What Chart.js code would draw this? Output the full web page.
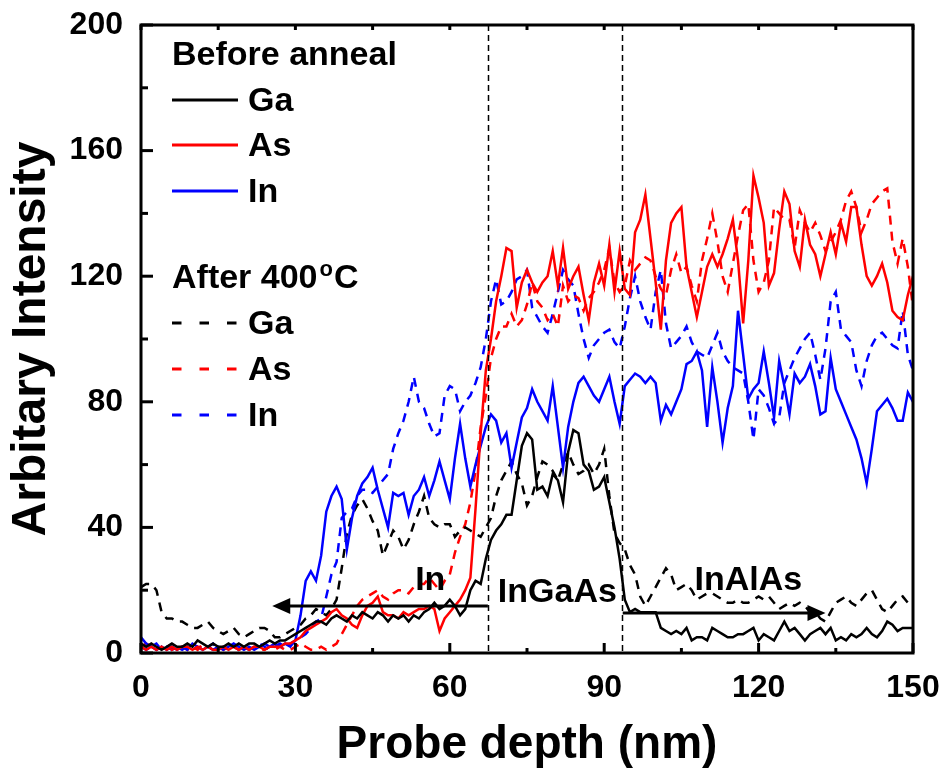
<!DOCTYPE html>
<html>
<head>
<meta charset="utf-8">
<script src="https://cdn.jsdelivr.net/npm/chart.js@4.4.0/dist/chart.umd.min.js"></script>
<style>
  body { margin: 0; background: #ffffff; }
  #wrap { width: 946px; height: 776px; }
</style>
</head>
<body>
<div id="wrap"><canvas id="chart" width="946" height="776"></canvas></div>
<script>
// Depth profile data (1 nm steps, 0..150 nm)
const depth = Array.from({ length: 151 }, (_, i) => i);

const gaBefore = [
  3,2,3,2,1,2,3,2,2,3,  2,4,3,2,3,2,2,3,2,3,  2,3,3,2,3,4,3,4,4,5,
  6,7,8,9,10,10,9,11,12,11,  10,12,11,13,12,11,13,12,10,12,
  11,12,10,12,11,13,14,16,14,15,  17,15,12,14,20,23,22,30,36,39,
  41,44,44,55,66,70,68,52,53,50,  57,55,48,64,71,70,60,58,52,53,
  56,48,40,30,17,13,14,13,13,13,  13,8,7,6,7,6,8,4,5,5,
  4,8,7,6,5,5,6,6,7,8,  4,6,5,4,7,10,7,8,6,4,
  6,7,8,6,8,4,5,4,6,5,  6,8,6,5,7,10,9,7,8,8,  8
];
const asBefore = [
  2,1,2,1,2,1,2,1,2,2,  1,2,1,2,1,1,2,1,2,1,  2,1,2,2,1,2,2,2,3,3,
  4,5,7,8,9,10,11,13,14,12,  11,9,8,12,15,16,18,13,12,12,
  11,13,12,13,14,14,15,14,7,11,  13,15,17,20,24,46,70,90,100,112,
  120,129,128,110,118,122,118,115,118,120,  128,117,129,116,120,123,114,106,118,124,
  117,130,115,128,116,114,134,138,146,132,  118,103,125,137,140,142,123,115,107,115,
  123,127,123,127,132,138,125,105,125,152,  145,137,117,121,135,147,143,128,123,138,
  130,127,120,127,134,127,137,131,142,142,  130,120,117,120,124,118,109,107,106,114,  120
];
const inBefore = [
  5,3,2,1,2,1,2,1,2,1,  3,2,1,2,1,2,1,2,3,2,  1,2,1,2,3,2,3,2,3,2,
  4,12,23,26,23,31,45,50,53,49,  33,43,50,54,56,59,52,46,40,51,
  50,51,44,50,52,56,50,55,61,55,  49,62,73,62,53,60,66,72,76,74,
  67,70,59,67,75,78,84,80,77,74,  85,72,59,72,80,86,88,85,82,80,
  84,88,80,73,85,87,89,88,86,88,  86,74,79,76,80,84,92,93,96,90,
  72,91,80,67,78,85,109,95,81,84,  86,96,86,75,93,85,76,89,86,88,
  92,85,76,77,94,84,80,76,72,68,  62,54,65,77,79,81,78,74,74,83,  80
];
const gaAfter = [
  21,22,22,20,13,11,11,10,10,9,  8,8,9,10,8,7,6,7,8,6,  5,6,7,8,8,7,5,5,6,7,
  8,9,11,12,14,13,12,14,17,27,  38,44,47,49,46,42,39,31,35,39,
  37,33,36,41,45,50,43,41,40,41,  41,37,39,40,39,38,37,40,43,50,
  55,58,61,57,54,47,50,56,61,60,  58,55,60,64,60,57,58,60,57,60,
  65,50,38,35,33,28,25,18,15,18,  21,24,27,25,20,21,22,20,17,18,
  19,19,18,17,16,16,17,16,16,17,  18,17,18,16,14,15,16,15,16,15,
  13,13,11,10,13,16,17,18,16,15,  17,19,20,17,14,13,15,17,18,16,  17
];
const asAfter = [
  2,3,2,1,2,3,1,2,2,1,  2,1,3,2,1,2,1,2,2,1,  2,1,2,1,1,2,1,2,1,1,
  2,3,2,1,1,2,1,2,3,6,  9,12,15,17,18,19,20,18,17,19,
  20,20,19,21,22,22,24,22,20,23,  25,32,37,41,48,58,72,82,94,100,
  104,104,108,104,106,111,118,112,110,106,  108,104,117,112,114,113,109,113,115,118,
  122,129,118,115,117,125,122,124,126,125,  120,116,114,122,127,121,123,117,112,125,
  132,140,131,120,115,124,133,141,143,125,  115,118,125,142,140,138,138,129,141,137,
  134,137,133,128,131,134,138,144,147,142,  134,138,143,145,147,148,131,124,132,123,  110
];
const inAfter = [
  2,1,2,3,1,2,1,2,1,2,  1,2,1,2,3,1,2,1,2,1,  2,1,2,3,2,1,2,3,2,3,
  4,5,6,8,10,11,18,25,29,43,  45,46,50,52,52,51,53,55,57,65,
  70,74,80,88,80,78,73,69,70,82,  85,84,77,80,82,86,91,100,112,119,
  111,112,115,119,120,122,110,107,104,102,  108,115,122,119,117,108,100,94,98,100,
  102,103,99,97,104,113,120,112,107,103,  115,122,105,97,99,101,104,99,96,95,
  94,98,102,96,93,91,90,89,80,68,  84,82,78,73,75,86,90,94,97,100,
  102,95,87,97,112,115,103,101,99,90,  85,93,98,101,102,100,98,97,109,95,  90
];

// Layer boundaries (nm) and axis ticks
const boundaries = [67.4, 93.4];
const xTicks = [0, 30, 60, 90, 120, 150];
const yTicks = [0, 40, 80, 120, 160, 200];

// Style settings
const st = {
  font: "'Liberation Sans', Arial, sans-serif",
  black: '#000000',
  red: '#ff0000',
  blue: '#0000ff',
  lineWidth: 2.5,
  dash: [9, 7]
};

const series = [
  { name: 'Ga', data: gaBefore, color: st.black, dashed: false },
  { name: 'As', data: asBefore, color: st.red, dashed: false },
  { name: 'In', data: inBefore, color: st.blue, dashed: false },
  { name: 'Ga', data: gaAfter, color: st.black, dashed: true },
  { name: 'As', data: asAfter, color: st.red, dashed: true },
  { name: 'In', data: inAfter, color: st.blue, dashed: true }
];

const datasets = series.map(s => ({
  label: s.name,
  data: depth.map((d, i) => ({ x: d, y: s.data[i] })),
  borderColor: s.color,
  borderWidth: st.lineWidth,
  borderDash: s.dashed ? st.dash : [],
  pointRadius: 0,
  tension: 0,
  fill: false
}));

// drop the label overflow padding so the plot box lands where the original has it
function fixBox(scale, prop, size) {
  scale[prop] = size;
  scale.paddingTop = 0;
  scale.paddingBottom = 0;
  scale.paddingLeft = 0;
  scale.paddingRight = 0;
}

// Frame, inward ticks, boundaries, arrows, labels and legend
const overlay = {
  id: 'overlay',
  afterDraw(chart) {
    const { ctx, chartArea: a, scales: { x, y } } = chart;
    ctx.save();
    ctx.strokeStyle = st.black;
    ctx.fillStyle = st.black;

    // dashed layer boundaries
    ctx.lineWidth = 1.5;
    ctx.setLineDash([6, 4]);
    boundaries.forEach(d => {
      const px = Math.round(x.getPixelForValue(d)) + 0.5;
      ctx.beginPath(); ctx.moveTo(px, a.top); ctx.lineTo(px, a.bottom); ctx.stroke();
    });
    ctx.setLineDash([]);

    // arrows
    const arrow = (from, to, v) => {
      const x0 = x.getPixelForValue(from), x1 = x.getPixelForValue(to), py = y.getPixelForValue(v);
      const dir = Math.sign(x1 - x0);
      ctx.lineWidth = 3;
      ctx.beginPath(); ctx.moveTo(x0, py); ctx.lineTo(x1 - dir * 14, py); ctx.stroke();
      ctx.beginPath();
      ctx.moveTo(x1, py);
      ctx.lineTo(x1 - dir * 18, py - 8);
      ctx.lineTo(x1 - dir * 18, py + 8);
      ctx.closePath(); ctx.fill();
    };
    arrow(67.4, 25.5, 15);
    arrow(93.6, 133, 12.7);

    // region labels
    ctx.font = 'bold 34px ' + st.font;
    ctx.textAlign = 'center';
    ctx.textBaseline = 'alphabetic';
    ctx.fillText('In', x.getPixelForValue(56.2), y.getPixelForValue(20));
    ctx.fillText('InGaAs', x.getPixelForValue(80.9), y.getPixelForValue(16.2));
    ctx.fillText('InAlAs', x.getPixelForValue(118), y.getPixelForValue(20.2));

    // frame
    ctx.lineWidth = 3;
    ctx.strokeRect(a.left, a.top, a.right - a.left, a.bottom - a.top);

    // ticks (inward)
    for (let v = 0; v <= 200; v += 20) {
      const py = y.getPixelForValue(v);
      const len = v % 40 === 0 ? 12 : 7;
      ctx.beginPath(); ctx.moveTo(a.left, py); ctx.lineTo(a.left + len, py); ctx.stroke();
    }
    for (let v = 0; v <= 150; v += 15) {
      const px = x.getPixelForValue(v);
      const len = v % 30 === 0 ? 10 : 5;
      ctx.beginPath(); ctx.moveTo(px, a.bottom); ctx.lineTo(px, a.bottom - len); ctx.stroke();
      ctx.beginPath(); ctx.moveTo(px, a.top); ctx.lineTo(px, a.top + 5); ctx.stroke();
    }

    // legend
    const lx = a.left + 31, tx = a.left + 107;
    ctx.textAlign = 'left';
    ctx.font = 'bold 34px ' + st.font;
    ctx.fillText('Before anneal', lx, 65);
    const rows = [
      { y: 100, s: series[0] }, { y: 145, s: series[1] }, { y: 191, s: series[2] },
      { y: 323, s: series[3] }, { y: 369, s: series[4] }, { y: 415, s: series[5] }
    ];
    rows.forEach(r => {
      ctx.strokeStyle = r.s.color;
      ctx.lineWidth = 3;
      ctx.setLineDash(r.s.dashed ? [9.5, 18] : []);
      ctx.beginPath(); ctx.moveTo(lx, r.y); ctx.lineTo(lx + 66, r.y); ctx.stroke();
      ctx.setLineDash([]);
      ctx.fillText(r.s.name, tx, r.y + 11);
    });
    const head = 'After 400';
    ctx.fillText(head, lx, 288);
    const w = ctx.measureText(head).width;
    ctx.font = 'bold 22px ' + st.font;
    ctx.fillText('o', lx + w + 2, 276);
    const wo = ctx.measureText('o').width;
    ctx.font = 'bold 34px ' + st.font;
    ctx.fillText('C', lx + w + wo + 3, 288);

    ctx.restore();
  }
};

const config = {
  type: 'line',
  data: { datasets: datasets },
  options: {
    responsive: false,
    animation: false,
    layout: { padding: { top: 25, right: 33, left: 0, bottom: 0 } },
    plugins: { legend: { display: false }, tooltip: { enabled: false } },
    scales: {
      x: {
        type: 'linear',
        min: 0,
        max: 150,
        afterFit: scale => fixBox(scale, 'height', 123),
        afterBuildTicks: scale => { scale.ticks = xTicks.map(v => ({ value: v })); },
        grid: { display: false, drawTicks: false },
        border: { display: false },
        ticks: {
          color: st.black,
          padding: 16,
          maxRotation: 0,
          font: { family: st.font, size: 32, weight: 'bold' }
        },
        title: {
          display: true,
          text: 'Probe depth (nm)',
          color: st.black,
          font: { family: st.font, size: 46, weight: 'bold', lineHeight: 1 },
          padding: { top: 0, bottom: 8 }
        }
      },
      y: {
        type: 'linear',
        min: 0,
        max: 200,
        afterFit: scale => fixBox(scale, 'width', 141),
        afterBuildTicks: scale => { scale.ticks = yTicks.map(v => ({ value: v })); },
        grid: { display: false, drawTicks: false },
        border: { display: false },
        ticks: {
          color: st.black,
          padding: 18,
          font: { family: st.font, size: 32, weight: 'bold' }
        },
        title: {
          display: true,
          text: 'Arbitary Intensity',
          color: st.black,
          font: { family: st.font, size: 48, weight: 'bold', lineHeight: 1 },
          padding: { top: 8, bottom: 0 }
        }
      }
    }
  },
  plugins: [overlay]
};

new Chart(document.getElementById('chart'), config);
</script>
</body>
</html>
